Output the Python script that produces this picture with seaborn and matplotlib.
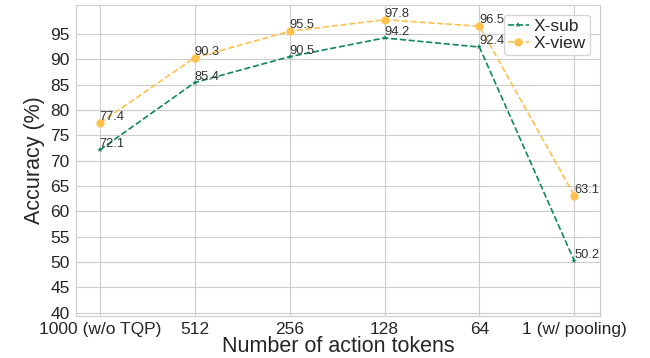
import matplotlib
matplotlib.use('Agg')
import matplotlib.pyplot as plt
import seaborn as sns
import pandas as pd

# values
token_labels = ['1000 (w/o TQP)', '512', '256', '128', '64', '1 (w/ pooling)']
xsub_acc = [72.1, 85.4, 90.5, 94.2, 92.4, 50.2]
xview_acc = [77.4, 90.3, 95.5, 97.8, 96.5, 63.1]

sns.set_style('whitegrid')
plt.rcParams['font.family'] = ['Liberation Sans', 'DejaVu Sans']

df = pd.DataFrame({'pos': list(range(len(token_labels))) * 2,
                   'acc': xsub_acc + xview_acc,
                   'setting': ['X-sub'] * len(xsub_acc) + ['X-view'] * len(xview_acc)})

fig = plt.figure(figsize=(6.5, 3.58), dpi=100)
ax = fig.add_axes([0.117, 0.117, 0.806, 0.869])

sns.lineplot(data=df[df['setting'] == 'X-sub'], x='pos', y='acc', ax=ax,
             color='#12875c', linestyle='--', linewidth=1.2,
             marker='*', markersize=4, markeredgewidth=0, label='X-sub')
sns.lineplot(data=df[df['setting'] == 'X-view'], x='pos', y='acc', ax=ax,
             color='#ffc24f', linestyle='--', linewidth=1.2,
             marker='o', markersize=6, markeredgewidth=0, label='X-view')

for i, v in enumerate(xsub_acc):
    ax.text(i, v, f'{v}', ha='left', va='bottom', fontsize=9.3, color='#333333')
for i, v in enumerate(xview_acc):
    ax.text(i, v, f'{v}', ha='left', va='bottom', fontsize=9.3, color='#333333')

ax.set_xticks(range(len(token_labels)))
ax.set_xticklabels(token_labels)
ax.set_xlim(-0.25, 5.27)
ax.set_ylim(39.3, 100.7)
ax.set_yticks(range(40, 100, 5))
ax.tick_params(axis='both', labelsize=12.5, pad=1)
ax.set_xlabel('Number of action tokens', fontsize=15.5, labelpad=-1)
ax.set_ylabel('Accuracy (%)', fontsize=15.5, labelpad=4)

ax.legend(loc='upper right', fontsize=12.5, frameon=True, handlelength=1.2,
          borderpad=0.25, labelspacing=0.1, handletextpad=0.3, borderaxespad=0.55)

fig.savefig('out.png', dpi=100)
